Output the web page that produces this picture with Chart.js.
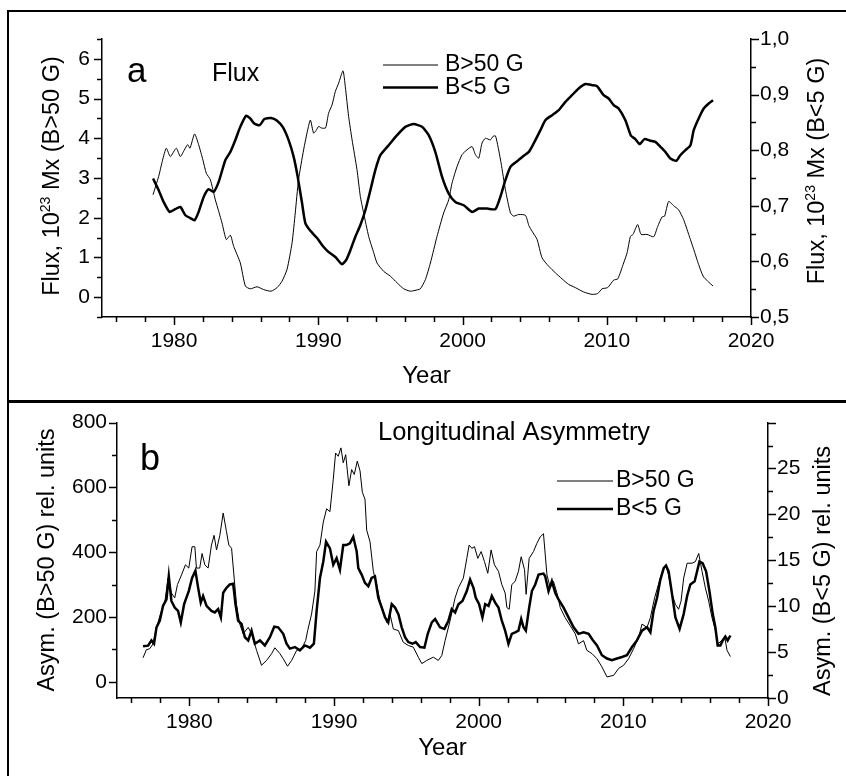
<!DOCTYPE html>
<html>
<head>
<meta charset="utf-8">
<title>Flux and longitudinal asymmetry</title>
<script src="https://cdn.jsdelivr.net/npm/chart.js@4/dist/chart.umd.min.js"></script>
<style>
  html, body { margin: 0; padding: 0; background: #fff; }
  body { width: 846px; height: 776px; position: relative; overflow: hidden; }
  .frame { position: absolute; left: 7px; width: 860px; border: 2px solid #000; box-sizing: border-box; }
  #frameA { top: 10px; height: 392px; }
  #frameB { top: 401px; height: 400px; }
  canvas { position: absolute; left: 0; }
  #chartA { top: 0; }
  #chartB { top: 400px; }
</style>
</head>
<body>
<div class="frame" id="frameA"></div>
<div class="frame" id="frameB"></div>
<canvas id="chartA" width="846" height="400"></canvas>
<canvas id="chartB" width="846" height="376"></canvas>
<script>
// Panel a: flux, B>50 G on the left axis, B<5 G on the right axis
const fluxStrongYears = [1978.54, 1978.93, 1979.2, 1979.46, 1979.74, 1980.15, 1980.43, 1980.7, 1980.94, 1981.1, 1981.42, 1981.7, 1982.0, 1982.23, 1982.51, 1982.86, 1983.1, 1983.32, 1983.62, 1983.9, 1984.13, 1984.59, 1984.94, 1985.28, 1985.75, 1986.21, 1986.72, 1987.14, 1987.48, 1987.83, 1988.18, 1988.4, 1988.63, 1988.98, 1989.26, 1989.45, 1989.67, 1989.85, 1990.02, 1990.2, 1990.5, 1990.71, 1990.95, 1991.18, 1991.41, 1991.71, 1991.87, 1992.1, 1992.34, 1992.68, 1992.91, 1993.14, 1993.49, 1993.84, 1994.07, 1994.53, 1994.99, 1995.46, 1995.92, 1996.38, 1996.7, 1997.07, 1997.42, 1997.77, 1998.23, 1998.69, 1999.04, 1999.27, 1999.62, 1999.97, 2000.31, 2000.66, 2000.89, 2001.12, 2001.35, 2001.58, 2001.93, 2002.12, 2002.28, 2002.43, 2002.67, 2002.97, 2003.32, 2003.54, 2003.89, 2004.36, 2004.6, 2004.82, 2005.17, 2005.51, 2005.97, 2006.44, 2006.9, 2007.36, 2007.82, 2008.4, 2008.98, 2009.37, 2009.67, 2010.06, 2010.48, 2010.76, 2011.17, 2011.41, 2011.64, 2011.82, 2012.14, 2012.38, 2012.79, 2013.25, 2013.53, 2013.83, 2014.01, 2014.29, 2014.64, 2014.98, 2015.33, 2015.68, 2016.03, 2016.37, 2016.68, 2017.0, 2017.37];
const fluxStrongValues = [2.58, 3.04, 3.45, 3.75, 3.54, 3.75, 3.54, 3.7, 3.84, 3.75, 4.11, 3.84, 3.45, 3.12, 2.96, 2.45, 2.15, 1.87, 1.45, 1.56, 1.28, 0.86, 0.28, 0.21, 0.26, 0.19, 0.15, 0.24, 0.40, 0.70, 1.37, 2.12, 2.96, 3.71, 4.21, 4.46, 4.13, 4.2, 4.30, 4.26, 4.26, 4.63, 4.84, 5.18, 5.39, 5.70, 5.30, 4.55, 3.96, 3.21, 2.54, 2.12, 1.53, 1.12, 0.86, 0.65, 0.53, 0.36, 0.21, 0.15, 0.17, 0.21, 0.44, 0.86, 1.53, 2.12, 2.45, 2.87, 3.29, 3.59, 3.71, 3.79, 3.59, 3.50, 3.88, 4.0, 3.96, 4.05, 4.06, 3.84, 3.38, 2.71, 2.12, 2.04, 2.08, 2.06, 1.80, 1.66, 1.45, 0.99, 0.78, 0.61, 0.46, 0.32, 0.24, 0.13, 0.07, 0.09, 0.21, 0.24, 0.43, 0.46, 0.86, 1.12, 1.53, 1.58, 1.83, 1.58, 1.58, 1.52, 1.78, 2.02, 2.04, 2.41, 2.30, 2.20, 1.95, 1.58, 1.20, 0.82, 0.53, 0.40, 0.28];
const fluxWeakYears = [1978.54, 1978.93, 1979.27, 1979.69, 1980.08, 1980.43, 1980.78, 1981.12, 1981.42, 1981.7, 1982.05, 1982.39, 1982.74, 1983.09, 1983.55, 1983.9, 1984.24, 1984.59, 1984.99, 1985.28, 1985.56, 1985.93, 1986.26, 1986.72, 1987.14, 1987.55, 1987.94, 1988.29, 1988.57, 1988.87, 1989.1, 1989.45, 1989.91, 1990.37, 1990.71, 1991.18, 1991.64, 1991.94, 1992.22, 1992.56, 1992.91, 1993.26, 1993.61, 1993.95, 1994.3, 1994.88, 1995.46, 1996.03, 1996.61, 1997.19, 1997.65, 1998.11, 1998.58, 1999.04, 1999.5, 2000.08, 2000.66, 2001.12, 2001.7, 2002.28, 2002.62, 2002.97, 2003.32, 2003.78, 2004.2, 2004.6, 2004.93, 2005.4, 2005.74, 2006.21, 2006.67, 2007.13, 2007.59, 2008.05, 2008.52, 2008.98, 2009.33, 2009.78, 2010.13, 2010.48, 2010.82, 2011.29, 2011.68, 2011.98, 2012.28, 2012.61, 2013.02, 2013.37, 2013.72, 2014.06, 2014.41, 2014.83, 2015.1, 2015.45, 2015.8, 2016.03, 2016.37, 2016.72, 2017.07, 2017.37];
const fluxWeakValues = [0.749, 0.728, 0.707, 0.689, 0.694, 0.698, 0.683, 0.678, 0.674, 0.689, 0.716, 0.730, 0.725, 0.743, 0.782, 0.797, 0.818, 0.842, 0.862, 0.857, 0.848, 0.845, 0.856, 0.858, 0.853, 0.841, 0.818, 0.788, 0.752, 0.705, 0.669, 0.655, 0.642, 0.626, 0.617, 0.608, 0.595, 0.603, 0.620, 0.644, 0.665, 0.692, 0.728, 0.764, 0.791, 0.809, 0.827, 0.842, 0.847, 0.842, 0.827, 0.797, 0.752, 0.722, 0.707, 0.701, 0.689, 0.695, 0.695, 0.694, 0.716, 0.746, 0.770, 0.780, 0.789, 0.797, 0.812, 0.836, 0.854, 0.863, 0.872, 0.887, 0.899, 0.911, 0.919, 0.917, 0.915, 0.899, 0.893, 0.881, 0.875, 0.854, 0.826, 0.820, 0.811, 0.820, 0.817, 0.815, 0.806, 0.797, 0.785, 0.781, 0.791, 0.800, 0.809, 0.836, 0.857, 0.875, 0.884, 0.890];

// Panel b: longitudinal asymmetry, B>50 G on the left axis, B<5 G on the right axis
const asymStrongYears = [1976.8, 1977.03, 1977.26, 1977.49, 1977.73, 1978.07, 1978.3, 1978.53, 1978.76, 1978.99, 1979.18, 1979.46, 1979.73, 1979.96, 1980.19, 1980.38, 1980.49, 1980.72, 1980.88, 1981.07, 1981.3, 1981.53, 1981.71, 1981.88, 1982.11, 1982.34, 1982.57, 1982.73, 1982.92, 1983.1, 1983.26, 1983.49, 1983.72, 1984.07, 1984.3, 1984.65, 1984.99, 1985.34, 1985.69, 1985.91, 1986.26, 1986.49, 1986.79, 1987.07, 1987.42, 1987.76, 1988.04, 1988.18, 1988.45, 1988.68, 1988.8, 1989.03, 1989.26, 1989.49, 1989.72, 1989.95, 1990.11, 1990.29, 1990.48, 1990.64, 1990.81, 1991.03, 1991.22, 1991.40, 1991.61, 1991.80, 1991.96, 1992.14, 1992.26, 1992.49, 1992.72, 1992.95, 1993.18, 1993.41, 1993.64, 1993.87, 1994.10, 1994.45, 1994.79, 1995.14, 1995.48, 1995.83, 1996.07, 1996.41, 1996.87, 1997.21, 1997.45, 1997.68, 1998.02, 1998.37, 1998.6, 1998.94, 1999.18, 1999.34, 1999.53, 1999.71, 1999.94, 2000.17, 2000.4, 2000.63, 2000.86, 2001.09, 2001.37, 2001.6, 2001.83, 2001.95, 2002.11, 2002.29, 2002.52, 2002.75, 2002.94, 2003.17, 2003.28, 2003.49, 2003.79, 2004.02, 2004.25, 2004.48, 2004.72, 2004.95, 2005.17, 2005.41, 2005.64, 2005.98, 2006.33, 2006.68, 2006.9, 2007.25, 2007.48, 2007.83, 2008.18, 2008.52, 2008.87, 2009.33, 2009.67, 2010.02, 2010.36, 2010.71, 2011.06, 2011.29, 2011.64, 2011.87, 2012.16, 2012.49, 2012.79, 2012.95, 2013.13, 2013.37, 2013.6, 2013.82, 2013.99, 2014.17, 2014.41, 2014.75, 2014.98, 2015.21, 2015.44, 2015.67, 2015.9, 2016.13, 2016.37, 2016.55, 2016.78, 2017.01, 2017.17, 2017.4];
const asymStrongValues = [74, 99, 102, 117, 168, 219, 244, 320, 274, 259, 300, 330, 361, 351, 417, 417, 351, 351, 396, 361, 351, 422, 452, 407, 452, 521, 463, 422, 412, 320, 239, 178, 148, 168, 148, 97, 51, 66, 87, 105, 87, 71, 48, 66, 97, 102, 127, 158, 209, 280, 402, 422, 493, 534, 525, 625, 706, 696, 722, 676, 701, 605, 655, 640, 681, 651, 585, 564, 468, 432, 341, 300, 249, 219, 183, 209, 163, 158, 122, 112, 107, 76, 56, 66, 76, 66, 81, 127, 188, 259, 290, 320, 381, 422, 412, 417, 381, 402, 371, 335, 407, 361, 341, 300, 274, 229, 224, 300, 310, 341, 386, 346, 270, 381, 402, 427, 447, 457, 330, 290, 310, 274, 229, 198, 173, 148, 117, 127, 97, 87, 71, 46, 15, 20, 41, 51, 71, 102, 137, 178, 168, 198, 259, 310, 351, 356, 330, 270, 239, 224, 249, 320, 366, 366, 371, 396, 341, 290, 249, 198, 158, 117, 127, 137, 97, 78];
const asymWeakYears = [1976.8, 1977.15, 1977.38, 1977.56, 1977.73, 1977.96, 1978.18, 1978.42, 1978.58, 1978.76, 1978.99, 1979.22, 1979.41, 1979.64, 1979.96, 1980.19, 1980.42, 1980.61, 1980.79, 1980.95, 1981.19, 1981.53, 1981.76, 1981.99, 1982.18, 1982.34, 1982.57, 1982.8, 1983.03, 1983.19, 1983.37, 1983.61, 1983.84, 1984.07, 1984.3, 1984.53, 1984.88, 1985.22, 1985.57, 1985.87, 1986.14, 1986.49, 1986.72, 1986.95, 1987.3, 1987.64, 1987.99, 1988.34, 1988.61, 1988.8, 1989.03, 1989.26, 1989.45, 1989.72, 1989.95, 1990.18, 1990.41, 1990.64, 1990.87, 1991.1, 1991.33, 1991.57, 1991.68, 1991.91, 1992.14, 1992.37, 1992.6, 1992.83, 1993.06, 1993.3, 1993.53, 1993.75, 1993.99, 1994.22, 1994.45, 1994.68, 1994.91, 1995.14, 1995.42, 1995.65, 1995.95, 1996.25, 1996.48, 1996.76, 1996.99, 1997.33, 1997.63, 1997.91, 1998.14, 1998.37, 1998.6, 1998.88, 1999.18, 1999.41, 1999.64, 1999.8, 2000.03, 2000.26, 2000.45, 2000.68, 2000.91, 2001.14, 2001.37, 2001.6, 2001.83, 2002.06, 2002.29, 2002.52, 2002.75, 2002.94, 2003.1, 2003.26, 2003.49, 2003.68, 2003.91, 2004.14, 2004.48, 2004.6, 2004.83, 2005.06, 2005.29, 2005.52, 2005.87, 2006.21, 2006.56, 2006.9, 2007.25, 2007.6, 2007.87, 2008.18, 2008.52, 2008.87, 2009.21, 2009.56, 2009.91, 2010.25, 2010.6, 2010.94, 2011.29, 2011.64, 2011.87, 2012.09, 2012.33, 2012.56, 2012.79, 2012.95, 2013.13, 2013.37, 2013.6, 2013.89, 2014.17, 2014.41, 2014.63, 2014.93, 2015.1, 2015.26, 2015.48, 2015.72, 2015.95, 2016.18, 2016.36, 2016.52, 2016.71, 2016.87, 2017.05, 2017.21, 2017.4];
const asymWeakValues = [5.63, 5.70, 6.27, 5.91, 7.70, 8.42, 10.03, 10.75, 13.26, 10.57, 9.85, 9.49, 8.24, 10.22, 11.65, 13.08, 13.87, 12.0, 10.39, 11.11, 10.03, 9.49, 9.32, 9.68, 8.78, 11.47, 12.0, 12.37, 12.44, 10.22, 8.42, 8.06, 6.62, 6.27, 7.34, 5.91, 6.27, 5.73, 6.62, 7.77, 7.70, 6.99, 5.91, 5.38, 5.55, 5.19, 5.73, 5.48, 5.91, 9.49, 13.08, 14.87, 17.02, 16.3, 14.52, 15.23, 13.98, 16.67, 16.67, 16.84, 17.56, 15.95, 14.15, 13.44, 12.54, 12.18, 13.08, 13.26, 10.92, 9.85, 8.78, 8.24, 10.22, 9.85, 9.14, 7.70, 6.62, 6.09, 5.91, 6.09, 5.55, 5.48, 6.99, 8.24, 8.6, 7.70, 7.53, 8.42, 9.68, 9.32, 10.22, 10.57, 11.65, 12.9, 12.0, 10.92, 10.22, 8.78, 10.22, 10.03, 11.11, 10.39, 9.85, 8.42, 7.34, 5.91, 6.99, 7.16, 7.34, 8.6, 7.70, 7.34, 9.85, 11.65, 12.37, 13.44, 13.55, 13.26, 11.65, 12.72, 11.47, 10.75, 9.85, 8.78, 7.70, 6.99, 7.16, 6.99, 6.34, 5.73, 4.66, 4.30, 4.12, 4.30, 4.47, 4.66, 5.55, 6.27, 7.34, 7.70, 7.16, 9.49, 10.92, 12.9, 14.15, 14.44, 13.8, 11.29, 8.78, 7.53, 9.14, 11.11, 12.37, 12.72, 13.8, 14.87, 14.69, 13.8, 11.65, 9.14, 7.70, 5.73, 5.73, 6.27, 6.70, 6.27, 6.81];

const seriesLabels = ['B>50 G', 'B<5 G'];
const yearTicks = [1980, 1990, 2000, 2010, 2020];
const fluxLeftTicks = [0, 1, 2, 3, 4, 5, 6];
const fluxRightTicks = [0.5, 0.6, 0.7, 0.8, 0.9, 1.0];
const asymLeftTicks = [0, 200, 400, 600, 800];
const asymRightTicks = [0, 5, 10, 15, 20, 25];

const FONT = '"Liberation Sans", Arial, Helvetica, sans-serif';
Chart.defaults.font.family = FONT;
Chart.defaults.color = '#000';

function toPoints(xs, ys) {
  return xs.map((x, i) => ({ x: x, y: ys[i] }));
}

function fixedTicks(values) {
  return function (scale) {
    scale.ticks = values.map(v => ({ value: v }));
  };
}

// draws a text made of normal and superscript parts, rotated to read bottom to top
function drawRotatedTitle(ctx, parts, cx, cy) {
  ctx.save();
  ctx.translate(cx, cy);
  ctx.rotate(-Math.PI / 2);
  ctx.textBaseline = 'alphabetic';
  ctx.textAlign = 'left';
  const widths = parts.map(p => {
    ctx.font = p.sup ? '14px ' + FONT : '23.5px ' + FONT;
    return ctx.measureText(p.text).width;
  });
  let x = -widths.reduce((a, b) => a + b, 0) / 2;
  parts.forEach((p, i) => {
    ctx.font = p.sup ? '14px ' + FONT : '23.5px ' + FONT;
    ctx.fillText(p.text, x, p.sup ? -1 : 8);
    x += widths[i];
  });
  ctx.restore();
}

// ticks, titles, labels and legend drawn on top of the chart
const decorPlugin = {
  id: 'decor',
  afterDraw(chart, args, opts) {
    const ctx = chart.ctx;
    const area = chart.chartArea;
    ctx.save();
    ctx.strokeStyle = '#000';
    ctx.lineWidth = 1.5;
    opts.ticks.forEach(t => {
      const scale = chart.scales[t.id];
      const k0 = Math.ceil(scale.min / t.minor - 1e-6);
      for (let k = k0; k * t.minor <= scale.max + 1e-6; k++) {
        const v = k * t.minor;
        const ratio = v / t.major;
        const len = Math.abs(ratio - Math.round(ratio)) < 1e-6 ? 8 : 5;
        const p = Math.round(scale.getPixelForValue(v)) + 0.5;
        ctx.beginPath();
        if (t.id === 'x') {
          ctx.moveTo(p, area.bottom);
          ctx.lineTo(p, area.bottom + len);
        } else if (scale.position === 'left') {
          ctx.moveTo(area.left, p);
          ctx.lineTo(area.left - len, p);
        } else {
          ctx.moveTo(area.right, p);
          ctx.lineTo(area.right + len, p);
        }
        ctx.stroke();
      }
    });

    ctx.fillStyle = '#000';
    drawRotatedTitle(ctx, opts.leftTitle, opts.leftTitlePos[0], opts.leftTitlePos[1]);
    drawRotatedTitle(ctx, opts.rightTitle, opts.rightTitlePos[0], opts.rightTitlePos[1]);

    ctx.font = '24px ' + FONT;
    ctx.textAlign = 'center';
    ctx.textBaseline = 'alphabetic';
    ctx.fillText('Year', (area.left + area.right) / 2, opts.yearBaseline);

    ctx.textAlign = 'left';
    opts.texts.forEach(t => {
      ctx.font = t.size + 'px ' + FONT;
      ctx.fillText(t.text, t.x, t.y);
    });

    // legend
    const lg = opts.legend;
    chart.data.datasets.forEach((ds, i) => {
      const y = lg.y + i * lg.gap;
      ctx.strokeStyle = '#000';
      ctx.lineWidth = ds.borderWidth;
      ctx.beginPath();
      ctx.moveTo(lg.x, y);
      ctx.lineTo(lg.x + lg.len, y);
      ctx.stroke();
      ctx.font = '23px ' + FONT;
      ctx.textBaseline = 'middle';
      ctx.fillText(ds.label, lg.x + lg.len + lg.textGap, y);
    });
    ctx.restore();
  }
};

function makeChart(canvasId, cfg) {
  return new Chart(document.getElementById(canvasId), {
    type: 'line',
    data: {
      datasets: [
        {
          label: seriesLabels[0],
          data: cfg.strong,
          yAxisID: 'y',
          borderColor: '#000',
          borderWidth: 1,
          pointRadius: 0,
          tension: cfg.tension,
          fill: false,
        },
        {
          label: seriesLabels[1],
          data: cfg.weak,
          yAxisID: 'y2',
          borderColor: '#000',
          borderWidth: 2.5,
          pointRadius: 0,
          tension: cfg.tension,
          fill: false,
        },
      ],
    },
    options: {
      responsive: false,
      animation: false,
      devicePixelRatio: 1,
      layout: { padding: { top: cfg.top, left: 0, right: 0, bottom: 0 } },
      plugins: {
        legend: { display: false },
        tooltip: { enabled: false },
        decor: cfg.decor,
      },
      scales: {
        x: {
          type: 'linear',
          position: 'bottom',
          min: 1975,
          max: 2020,
          afterFit: s => { s.height = cfg.xHeight; },
          afterBuildTicks: fixedTicks(yearTicks),
          grid: { display: false, drawTicks: false },
          border: { display: true, color: '#000', width: 1.5 },
          ticks: { autoSkip: false, maxRotation: 0, padding: 12, font: { size: 21 }, callback: v => String(v) },
        },
        y: {
          type: 'linear',
          position: 'left',
          min: cfg.leftMin,
          max: cfg.leftMax,
          afterFit: s => { s.width = cfg.leftWidth; },
          afterBuildTicks: fixedTicks(cfg.leftTicks),
          grid: { display: false, drawTicks: false },
          border: { display: true, color: '#000', width: 1.5 },
          ticks: { autoSkip: false, padding: cfg.leftPad, font: { size: 21 }, callback: v => String(v) },
        },
        y2: {
          type: 'linear',
          position: 'right',
          min: cfg.rightMin,
          max: cfg.rightMax,
          afterFit: s => { s.width = cfg.rightWidth; },
          afterBuildTicks: fixedTicks(cfg.rightTicks),
          grid: { display: false, drawTicks: false },
          border: { display: true, color: '#000', width: 1.5 },
          ticks: { autoSkip: false, padding: 9, font: { size: 21 }, callback: cfg.rightFormat },
        },
      },
    },
    plugins: [decorPlugin],
  });
}

makeChart('chartA', {
  strong: toPoints(fluxStrongYears, fluxStrongValues),
  weak: toPoints(fluxWeakYears, fluxWeakValues),
  tension: 0.2,
  top: 39,
  xHeight: 83,
  leftWidth: 102,
  rightWidth: 95,
  leftPad: 12,
  leftMin: -0.5,
  leftMax: 6.5,
  rightMin: 0.5,
  rightMax: 1.0,
  leftTicks: fluxLeftTicks,
  rightTicks: fluxRightTicks,
  rightFormat: v => v.toFixed(1).replace('.', ','),
  decor: {
    ticks: [
      { id: 'x', minor: 2, major: 10 },
      { id: 'y', minor: 0.5, major: 1 },
      { id: 'y2', minor: 0.05, major: 0.1 },
    ],
    leftTitle: [{ text: 'Flux, 10' }, { text: '23', sup: true }, { text: ' Mx (B>50 G)' }],
    leftTitlePos: [51, 176],
    rightTitle: [{ text: 'Flux, 10' }, { text: '23', sup: true }, { text: ' Mx (B<5 G)' }],
    rightTitlePos: [816, 171],
    yearBaseline: 383,
    texts: [
      { text: 'a', x: 127, y: 82, size: 35 },
      { text: 'Flux', x: 212, y: 81, size: 25 },
    ],
    legend: { x: 383, y: 65, gap: 22.5, len: 55, textGap: 7 },
  },
});

makeChart('chartB', {
  strong: toPoints(asymStrongYears, asymStrongValues),
  weak: toPoints(asymWeakYears, asymWeakValues),
  tension: 0,
  top: 19,
  xHeight: 78,
  leftWidth: 117,
  rightWidth: 78,
  leftPad: 10,
  leftMin: -50,
  leftMax: 800,
  rightMin: 0,
  rightMax: 30,
  leftTicks: asymLeftTicks,
  rightTicks: asymRightTicks,
  rightFormat: v => String(v),
  decor: {
    ticks: [
      { id: 'x', minor: 2, major: 10 },
      { id: 'y', minor: 100, major: 200 },
      { id: 'y2', minor: 2.5, major: 5 },
    ],
    leftTitle: [{ text: 'Asym. (B>50 G) rel. units' }],
    leftTitlePos: [46, 160],
    rightTitle: [{ text: 'Asym. (B<5 G) rel. units' }],
    rightTitlePos: [822, 171],
    yearBaseline: 355,
    texts: [
      { text: 'b', x: 140, y: 70, size: 36 },
      { text: 'Longitudinal Asymmetry', x: 378, y: 40, size: 25.5 },
    ],
    legend: { x: 557, y: 81, gap: 28, len: 56, textGap: 3 },
  },
});
</script>
</body>
</html>
